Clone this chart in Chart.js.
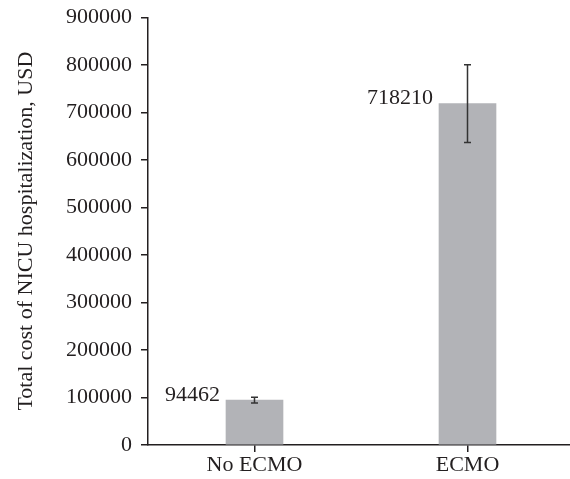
<!DOCTYPE html>
<html>
<head>
<meta charset="utf-8">
<script src="https://cdn.jsdelivr.net/npm/chart.js@4.4.1/dist/chart.umd.min.js"></script>
<style>
  html, body { margin: 0; padding: 0; overflow: hidden; background: #fff; }
  #wrap { width: 574px; height: 479px; }
</style>
</head>
<body>
<div id="wrap"><canvas id="costChart"></canvas></div>
<script>
const categories = ["No ECMO", "ECMO"];
const meanCost = [94462, 718210];
const costError = [6000, 82000];
const yTickMin = 0;
const yTickMax = 900000;
const yTickStep = 100000;

const inkColor = "#231f20";
const fontName = "'Liberation Serif', 'DejaVu Serif', serif";

// error bars and value labels, drawn through the y scale
const barExtras = {
    id: "barExtras",
    afterDatasetsDraw(chart) {
        const ctx = chart.ctx;
        const yScale = chart.scales.y;
        const meta = chart.getDatasetMeta(0);
        meta.data.forEach((bar, i) => {
            const top = yScale.getPixelForValue(meanCost[i] + costError[i]);
            const bottom = yScale.getPixelForValue(meanCost[i] - costError[i]);
            ctx.save();
            ctx.strokeStyle = "#333";
            ctx.lineWidth = 1.5;
            ctx.beginPath();
            ctx.moveTo(bar.x, top);
            ctx.lineTo(bar.x, bottom);
            ctx.moveTo(bar.x - 3.5, top);
            ctx.lineTo(bar.x + 3.5, top);
            ctx.moveTo(bar.x - 3.5, bottom);
            ctx.lineTo(bar.x + 3.5, bottom);
            ctx.stroke();

            ctx.fillStyle = inkColor;
            ctx.font = "22px " + fontName;
            ctx.textAlign = "right";
            ctx.textBaseline = "middle";
            ctx.fillText(String(meanCost[i]), bar.x - bar.width / 2 - 6, bar.y - 5);
            ctx.restore();
        });
    }
};

const ctx = document.getElementById("costChart");
const costChart = new Chart(ctx, {
    type: "bar",
    data: {
        labels: categories,
        datasets: [{
            data: meanCost,
            backgroundColor: "#b2b3b7",
            barThickness: 57
        }]
    },
    options: {
        responsive: true,
        maintainAspectRatio: false,
        animation: false,
        layout: { padding: { top: 0, right: 0, bottom: 0, left: 0 } },
        plugins: {
            legend: { display: false },
            tooltip: { enabled: false }
        },
        scales: {
            x: {
                grid: {
                    offset: false,
                    drawOnChartArea: false,
                    drawTicks: true,
                    tickLength: 7,
                    color: inkColor,
                    lineWidth: 1.5
                },
                border: { color: inkColor, width: 1.5 },
                ticks: {
                    color: inkColor,
                    font: { family: fontName, size: 22 },
                    padding: 0
                },
                afterFit(scale) { scale.height = 34; }
            },
            y: {
                min: yTickMin,
                max: yTickMax,
                grid: {
                    drawOnChartArea: false,
                    drawTicks: true,
                    tickLength: 7,
                    color: inkColor,
                    lineWidth: 1.5
                },
                border: { color: inkColor, width: 1.5 },
                ticks: {
                    stepSize: yTickStep,
                    color: inkColor,
                    font: { family: fontName, size: 22, lineHeight: 0.75 },
                    padding: 9,
                    callback: (value) => String(value)
                },
                title: {
                    display: true,
                    text: "Total cost of NICU hospitalization, USD",
                    color: inkColor,
                    font: { family: fontName, size: 22 },
                    padding: { top: 13, bottom: 0 }
                },
                afterFit(scale) { scale.width = 148; }
            }
        }
    },
    plugins: [barExtras]
});
</script>
</body>
</html>
